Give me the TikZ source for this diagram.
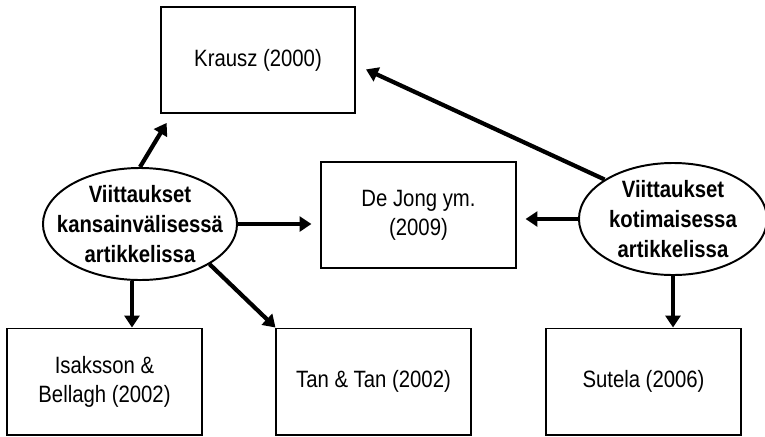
\documentclass[tikz,border=0pt]{standalone}
\usepackage{fontspec}
\setmainfont{Liberation Sans}[FakeStretch=0.86]
\usetikzlibrary{shapes.geometric,arrows.meta}

\begin{document}
\begin{tikzpicture}[x=0.025cm,y=-0.025cm,
		refbox/.style={draw,line width=1.4pt,minimum width=4.85cm,minimum height=2.65cm,inner sep=0pt,align=center},
		citeoval/.style={draw,ellipse,line width=1.4pt,minimum width=4.85cm,minimum height=2.8cm,inner sep=0pt},
		citetext/.style={align=center,font=\bfseries\fontsize{16.8}{21.5}\selectfont},
		arr/.style={line width=3pt,-{Triangle[length=8.5pt,width=10.6pt]}}]
				\fontsize{16.8}{20.5}\selectfont
				\useasboundingbox (0,0) rectangle (765,436);
				% Cited sources
				\node[refbox] (krausz) at (258,60) {Krausz (2000)};
				\node[refbox] (dejong) at (418.5,215) {De Jong ym.\\(2009)};
				\node[refbox] (isaksson) at (104.5,381.5) {Isaksson \&\\Bellagh (2002)};
				\node[refbox] (tan) at (373.5,381.5) {Tan \& Tan (2002)};
				\node[refbox] (sutela) at (643.5,381.5) {Sutela (2006)};
				
				% Citing articles
				\node[citeoval] (intl) at (140,224) {};
				\node[citetext] (intltxt) at (intl) {Viittaukset\\kansainvälisessä\\artikkelissa};
				\node[citeoval,minimum width=4.7cm] (dom) at (673,219) {};
				\node[citetext] (domtxt) at (dom) {Viittaukset\\kotimaisessa\\artikkelissa};
				
				% Arrows
				\draw[arr,shorten >=0.26cm] (intl.north) -- ([xshift=0.3cm]krausz.south west);
				\draw[arr,shorten >=0.225cm] (intl.east) -- (intl.east -| dejong.west);
				\draw[arr] ([xshift=-0.2cm]intl.south) -- ([xshift=-0.2cm]intl.south |- isaksson.north);
				\draw[arr] (intl.-30) -- (tan.north west);
				\draw[arr,shorten >=0.275cm] (dom.150) -- ([yshift=-0.12cm]krausz.east);
				\draw[arr,shorten >=0.225cm] (dom.west) -- (dom.west -| dejong.east);
				\draw[arr] (dom.south) -- (dom.south |- sutela.north);
			\end{tikzpicture}
\end{document}
